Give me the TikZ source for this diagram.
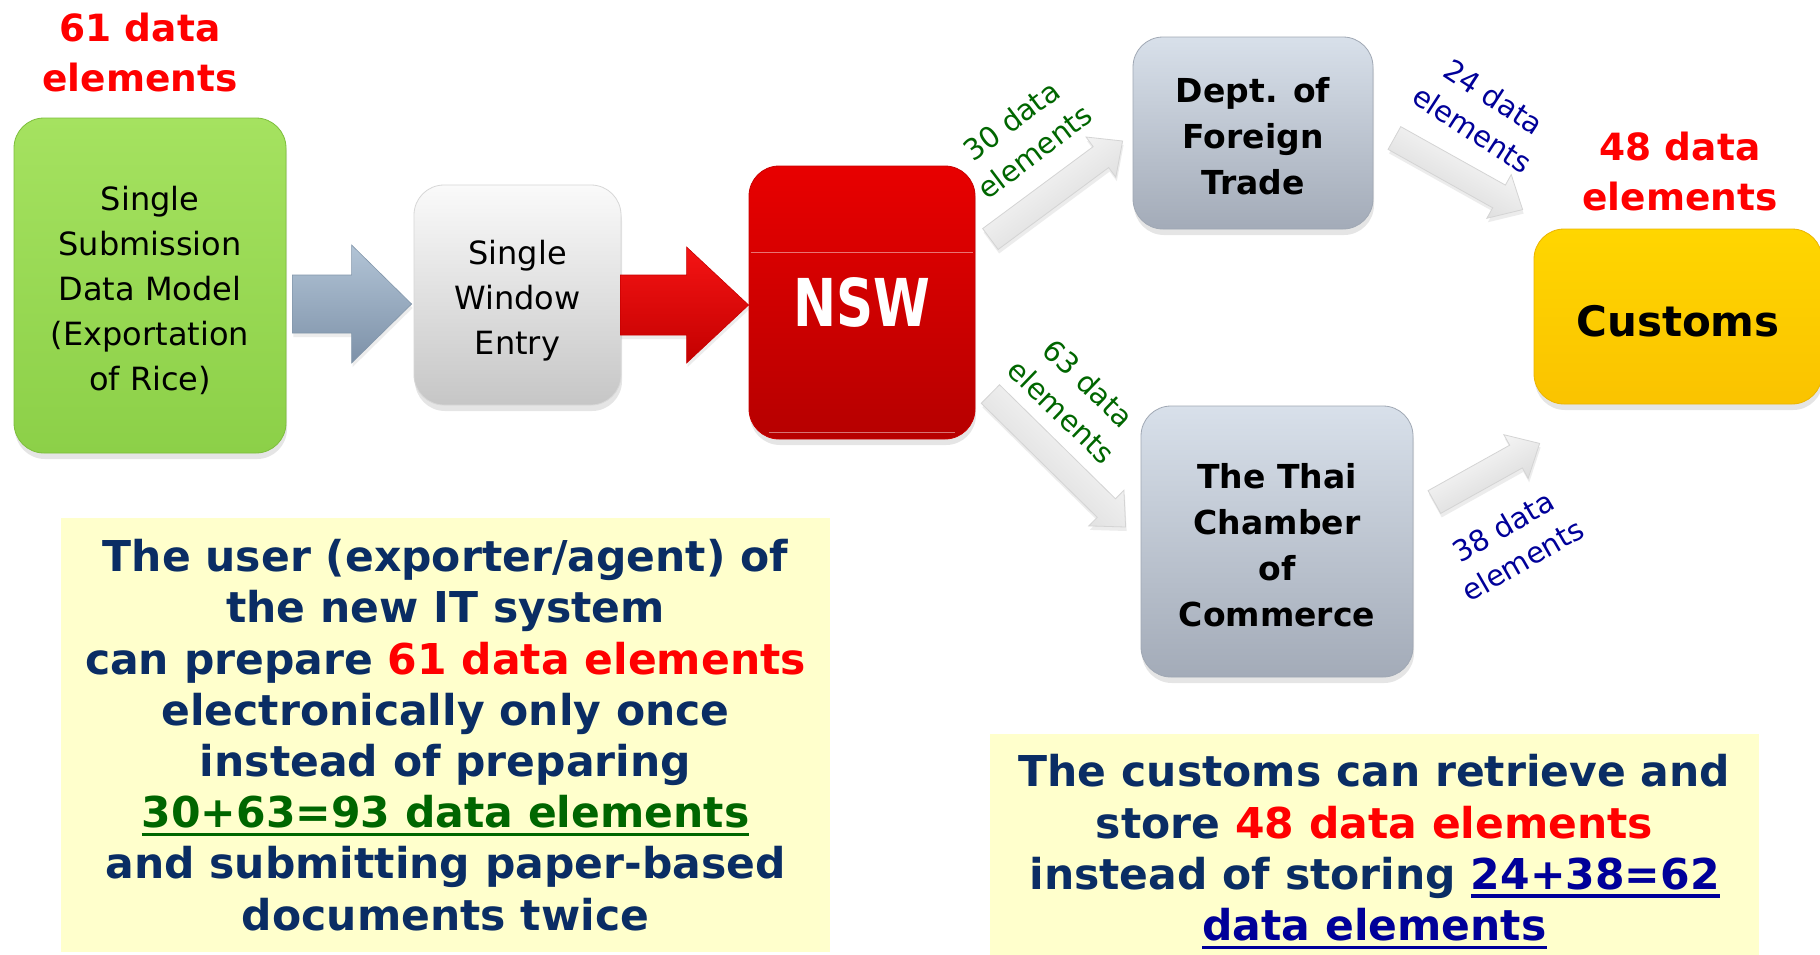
\documentclass[tikz,border=0pt]{standalone}
\usepackage{fontspec}
\usepackage{graphicx}
\setmainfont{DejaVu Sans}
\usetikzlibrary{calc}
\usetikzlibrary{shadows}

\definecolor{navytext}{RGB}{10,45,100}
\definecolor{lblgreen}{RGB}{0,102,0}
\definecolor{lblblue}{RGB}{0,0,153}
\definecolor{notefill}{RGB}{255,255,204}

% thick coloured underline
\newcommand{\thickul}[1]{\setbox0\hbox{#1}\rlap{\copy0}\raisebox{-8.5pt}{\rule{\wd0}{3.5pt}}}
% taller first line, pushes the text block down
\newcommand{\dropfirst}[1]{\rule{0pt}{#1}}

% block arrow: style, tail, tip, half shaft, half head, head length
\newcommand{\blockarrow}[6]{%
  \coordinate (ba-h) at ($(#3)!#6!(#2)$);
  \draw[#1] ($(#2)!#4!90:(#3)$) -- ($(ba-h)!#4!-90:(#2)$) -- ($(ba-h)!#5!-90:(#2)$)
    -- (#3) -- ($(ba-h)!#5!90:(#2)$) -- ($(ba-h)!#4!90:(#2)$) -- ($(#2)!#4!-90:(#3)$) -- cycle;
}

\begin{document}
\begin{tikzpicture}[x=1pt, y=-1pt,
    plainbox/.style={rounded corners=30pt, align=center, inner sep=0pt, line width=0.8pt,
      drop shadow={shadow xshift=1pt, shadow yshift=-6pt, opacity=0.2}},
    boxtext/.style={font=\fontsize{32}{45}\selectfont},
    boldtext/.style={font=\fontsize{33}{46}\bfseries},
    redtitle/.style={align=center, text=red, font=\fontsize{37.5}{50}\bfseries},
    lbl/.style={align=center, font=\fontsize{29}{39}\selectfont},
    note/.style={fill=notefill, text=navytext, align=center, inner sep=0pt,
      font=\fontsize{42.5}{51.2}\bfseries},
    whitearrow/.style={top color=white, bottom color=black!17, draw=black!17, line width=0.8pt,
      drop shadow={shadow xshift=1pt, shadow yshift=-4pt, opacity=0.15}},
    bluearrow/.style={top color={rgb,255:red,178;green,196;blue,214}, bottom color={rgb,255:red,125;green,145;blue,168},
      draw={rgb,255:red,130;green,150;blue,170}, line width=0.6pt,
      drop shadow={shadow xshift=1pt, shadow yshift=-4pt, opacity=0.15}},
    redarrow/.style={top color={rgb,255:red,245;green,20;blue,20}, bottom color={rgb,255:red,195;green,0;blue,0},
      draw={rgb,255:red,200;green,0;blue,0}, line width=0.6pt,
      drop shadow={shadow xshift=1pt, shadow yshift=-4pt, opacity=0.15}}]

  \fill[white] (0,0) rectangle (1820,954);
  \useasboundingbox (0,0) rectangle (1820,954);

  % boxes
  \node[redtitle] (t61) at (140,53) {61 data\\elements};
  \node[plainbox, boxtext, minimum width=272, minimum height=335,
    top color={rgb,255:red,165;green,226;blue,96}, bottom color={rgb,255:red,140;green,208;blue,72},
    draw={rgb,255:red,125;green,190;blue,60}] (sdm) at (150,285.5)
    {\dropfirst{34pt}Single\\Submission\\Data Model\\(Exportation\\of Rice)};
  \node[plainbox, boxtext, minimum width=207, minimum height=220,
    top color={rgb,255:red,250;green,250;blue,250}, bottom color={rgb,255:red,198;green,198;blue,198},
    draw={rgb,255:red,215;green,215;blue,215}] (swe) at (517.5,295) {\dropfirst{36pt}Single\\Window\\Entry};
  \node[plainbox, minimum width=226, minimum height=273, text=white,
    top color={rgb,255:red,232;green,0;blue,0}, bottom color={rgb,255:red,182;green,0;blue,0},
    draw={rgb,255:red,200;green,0;blue,0}, font=\fontsize{66}{70}\bfseries] (nsw) at (862,302.5)
    {\scalebox{0.78}[1]{NSW}};
  \node[plainbox, boldtext, minimum width=240, minimum height=192,
    top color={rgb,255:red,216;green,224;blue,234}, bottom color={rgb,255:red,163;green,171;blue,184},
    draw={rgb,255:red,160;green,168;blue,180}] (dft) at (1253,133) {\dropfirst{31pt}Dept. of\\Foreign\\Trade};
  \node[plainbox, boldtext, minimum width=272, minimum height=271,
    top color={rgb,255:red,216;green,224;blue,234}, bottom color={rgb,255:red,163;green,171;blue,184},
    draw={rgb,255:red,160;green,168;blue,180}] (thai) at (1277,541.5) {\dropfirst{32pt}The Thai\\Chamber\\of\\Commerce};
  \node[redtitle] (t48) at (1680,172) {48 data\\elements};
  \node[plainbox, minimum width=288, minimum height=175,
    top color={rgb,255:red,255;green,214;blue,0}, bottom color={rgb,255:red,250;green,195;blue,0},
    draw={rgb,255:red,235;green,180;blue,0}, font=\fontsize{42}{46}\bfseries] (cus) at (1678,316.5) {\dropfirst{40pt}Customs};

  % gloss lines
  \draw[white, opacity=0.45, line width=1] ($(nsw.west)+(2,-50)$) -- ($(nsw.east)+(-2,-50)$);
  \draw[white, opacity=0.45, line width=1] ($(nsw.west)+(20,129.5)$) -- ($(nsw.east)+(-20,129.5)$);

  % arrow ends
  \coordinate (b0s) at ($(sdm.east)+(6,18.5)$);
  \coordinate (b0e) at ($(swe.west)+(-2,9)$);
  \coordinate (r0s) at ($(swe.east)+(-1,10)$);
  \coordinate (r0e) at ($(nsw.west)+(0,2.5)$);
  \coordinate (a1s) at ($(nsw.east)+(15,-63.5)$);
  \coordinate (a1e) at ($(dft.west)+(-10,8)$);
  \coordinate (a2s) at ($(dft.east)+(21,5)$);
  \coordinate (a2e) at ($(cus.north west)+(-11,-19)$);
  \coordinate (a3s) at ($(nsw.east)+(15,91.5)$);
  \coordinate (a3e) at ($(thai.west)+(-15,-14.5)$);
  \coordinate (a4s) at ($(thai.east)+(21,-39.5)$);
  \coordinate (a4e) at ($(cus.south west)+(6,39)$);

  \blockarrow{bluearrow}{b0s}{b0e}{29pt}{59pt}{60pt}
  \blockarrow{redarrow}{r0s}{r0e}{30pt}{58pt}{62pt}
  \blockarrow{whitearrow, shading angle=36}{a1s}{a1e}{13pt}{25pt}{27pt}
  \blockarrow{whitearrow, shading angle=-29}{a2s}{a2e}{13pt}{25pt}{27pt}
  \blockarrow{whitearrow, shading angle=-44}{a3s}{a3e}{13pt}{25pt}{27pt}
  \blockarrow{whitearrow, shading angle=29}{a4s}{a4e}{13pt}{25pt}{27pt}

  % arrow labels
  \node[lbl, text=lblgreen, rotate=37] (l30) at (1023,136) {30 data\\elements};
  \node[lbl, text=lblblue, rotate=-33] (l24) at (1483,113) {24 data\\elements};
  \node[lbl, text=lblgreen, rotate=-44] (l63) at (1075,397) {63 data\\elements};
  \node[lbl, text=lblblue, rotate=30] (l38) at (1513,543) {38 data\\elements};

  % notes
  \node[note, minimum width=769, minimum height=434] (usernote) at (445.5,735)
    {The user (exporter/agent) of\\the new IT system\\can prepare {\color{red}61 data elements}\\electronically only once\\instead of preparing\\{\color{lblgreen}\thickul{30+63=93 data elements}}\\and submitting paper-based\\documents twice};
  \node[note, minimum width=769, minimum height=224] (cusnote) at (1374.5,846)
    {\dropfirst{44pt}The customs can retrieve and\\store {\color{red}48 data elements}\\instead of storing {\color{lblblue}\thickul{24+38=62}}\\{\color{lblblue}\thickul{data elements}}};
\end{tikzpicture}
\end{document}
